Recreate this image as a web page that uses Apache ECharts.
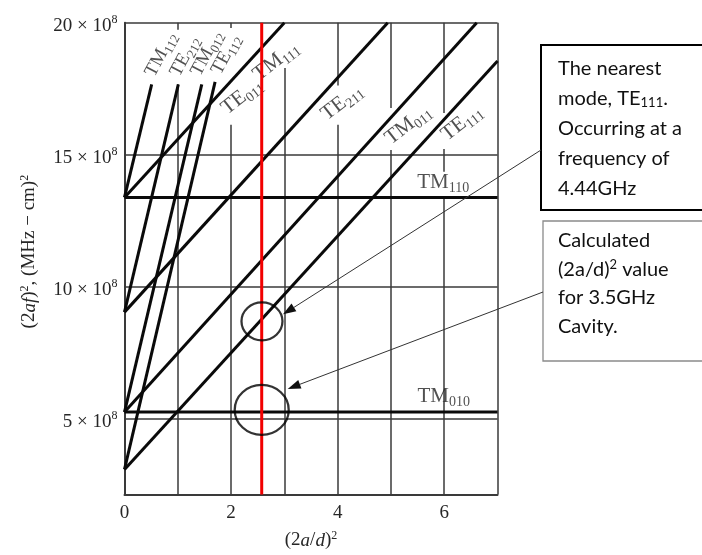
<!DOCTYPE html>
<html>
<head>
<meta charset="utf-8">
<script src="https://cdn.jsdelivr.net/npm/echarts@6/dist/echarts.min.js"></script>
<style>
  html, body { margin: 0; padding: 0; background: #fff; }
  #chart { width: 702px; height: 555px; }
</style>
</head>
<body>
<div id="chart"></div>
<script>
// Axis ranges: (2a/d)^2 across, (2af)^2 up in units of 10^8 (MHz-cm)^2
const xRange = [0, 7];
const yRange = [2.15, 20];
const xTickLabels = [0, 2, 4, 6];
const yTickLabels = [5, 10, 15, 20];

// l = 0 modes: level does not depend on d
const flatModes = ['TM010', 'TM110'];
const flatLevels = [5.27, 13.39];

// l = 1 modes: value at (2a/d)^2 = 0, then where each line leaves the chart
const firstModes = ['TE111', 'TM011', 'TE211', 'TM111'];
const firstStarts = [3.1, 5.27, 9.05, 13.39];
const firstEnds = [[7, 18.55], [6.61, 20], [4.94, 20], [3.0, 20]];

// l = 2 modes: steeper lines, stopped short of their labels
const secondModes = ['TE112', 'TM012', 'TE212', 'TM112'];
const secondStarts = [3.1, 5.27, 9.05, 13.39];
const secondEnds = [[1.70, 17.76], [1.45, 17.67], [1.01, 17.67], [0.51, 17.67]];

// Design point: (2a/d)^2 for the 3.5 GHz cavity, and the crossings marked on it
const designRatio = 2.575;
const markedPoints = [[2.58, 8.7], [2.575, 5.35]];

// Vertical rules and the stretches drawn on each (broken where mode names sit)
const vRuleX = [1, 2, 3, 4, 5, 6, 7];
const vRuleSpans = [
  [[2.15, 17.67], [19.73, 20]],
  [[2.15, 16.14], [19.8, 20]],
  [[2.15, 18.29]],
  [[2.15, 16.14], [17.62, 20]],
  [[2.15, 15.18], [16.77, 20]],
  [[2.15, 13.39], [14.36, 15.22], [16.58, 20]],
  [[2.15, 20]]
];
const hRuleY = [5, 10, 15, 20];

// Mode names and where they are written
const labelTexts = ['TM112', 'TE212', 'TM012', 'TE112', 'TE011', 'TM111', 'TE211', 'TM011', 'TE111', 'TM110', 'TM010'];
const labelAnchors = [[0.685, 18.8], [1.135, 18.73], [1.548, 18.84], [1.905, 18.8], [2.205, 17.21], [2.843, 18.55],
                      [4.08, 16.99], [5.32, 16.14], [6.33, 16.21], [5.98, 13.96], [5.99, 5.85]];
const labelAngles = [62, 62, 62, 62, 38, 38, 38, 38, 38, 0, 0];

// Notes
const noteA = ['The nearest', 'mode, TE{s|111}.', 'Occurring at a', 'frequency of', '4.44GHz'];
const noteB = ['Calculated', '(2a/d){p|2} value', 'for 3.5GHz', 'Cavity.'];

const SERIF = '"Liberation Serif", "DejaVu Serif", serif';
const SANS = 'Lato, "Open Sans", sans-serif';
const INK = '#262626';
const RULE = '#3a3a3a';

const chart = echarts.init(document.getElementById('chart'), null, { renderer: 'canvas' });

const ruleData = [];
vRuleX.forEach((x, i) => {
  vRuleSpans[i].forEach(s => ruleData.push({ coords: [[x, s[0]], [x, s[1]]] }));
});
hRuleY.forEach(y => ruleData.push({ coords: [[xRange[0], y], [xRange[1], y]] }));

const modeLine = (name, pts) => ({
  type: 'line', name, data: pts, symbol: 'none', silent: true, z: 3,
  lineStyle: { color: '#0a0a0a', width: 3 }
});

const series = [
  {
    type: 'lines', coordinateSystem: 'cartesian2d', silent: true, z: 1,
    lineStyle: { color: RULE, width: 1.5, opacity: 1 },
    data: ruleData
  }
];
flatModes.forEach((m, i) => series.push(modeLine(m, [[xRange[0], flatLevels[i]], [xRange[1], flatLevels[i]]])));
firstModes.forEach((m, i) => series.push(modeLine(m, [[0, firstStarts[i]], firstEnds[i]])));
secondModes.forEach((m, i) => series.push(modeLine(m, [[0, secondStarts[i]], secondEnds[i]])));

series.push({
  type: 'line', name: 'design', data: [[designRatio, yRange[0]], [designRatio, yRange[1]]],
  symbol: 'none', silent: true, z: 5, lineStyle: { color: '#f20000', width: 3 }
});

series.push({
  type: 'scatter', name: 'marks', silent: true, z: 6,
  data: [
    { value: markedPoints[0], symbolSize: [41, 38] },
    { value: markedPoints[1], symbolSize: [54, 50] }
  ],
  symbol: 'circle',
  itemStyle: { color: 'rgba(0,0,0,0)', borderColor: '#000', borderWidth: 2.2 }
});

const modeRich = {
  m: { fontFamily: SERIF, fontSize: 21, color: INK },
  s: { fontFamily: SERIF, fontSize: 14, color: INK, padding: [12, 0, 0, 0] },
  ms: { fontFamily: SERIF, fontSize: 19, color: INK },
  ss: { fontFamily: SERIF, fontSize: 13, color: INK, padding: [11, 0, 0, 0] }
};
series.push({
  type: 'scatter', name: 'names', silent: true, z: 4, symbolSize: 0,
  data: labelTexts.map((t, i) => ({
    value: labelAnchors[i], name: t,
    label: { rotate: labelAngles[i] }
  })),
  label: {
    show: true, position: 'inside', align: 'center', verticalAlign: 'middle',
    formatter: p => {
      const steep = labelAngles[p.dataIndex] > 50;
      const a = steep ? 'ms' : 'm', b = steep ? 'ss' : 's';
      return `{${a}|${p.name.slice(0, 2)}}{${b}|${p.name.slice(2)}}`;
    },
    rich: modeRich
  }
});

const supRich = {
  i: { fontFamily: SERIF, fontSize: 19, fontStyle: 'italic', color: INK },
  p: { fontFamily: SERIF, fontSize: 12, color: INK, padding: [0, 0, 10, 0] }
};

chart.setOption({
  animation: false,
  backgroundColor: '#fff',
  grid: { left: 124.5, right: 204.5, top: 22.7, bottom: 50 },
  xAxis: {
    type: 'value', min: xRange[0], max: xRange[1], interval: 1,
    name: '(2{i|a}/{i|d}){p|2}', nameLocation: 'middle', nameGap: 35,
    nameTextStyle: { fontFamily: SERIF, fontSize: 19, color: INK, rich: supRich },
    axisLine: { show: true, lineStyle: { color: RULE, width: 2 } },
    axisTick: { show: false },
    splitLine: { show: false },
    axisLabel: {
      customValues: xTickLabels, margin: 9,
      fontFamily: SERIF, fontSize: 19, color: INK
    }
  },
  yAxis: {
    type: 'value', min: yRange[0], max: yRange[1],
    name: '(2{i|af}){p|2}, (MHz − cm){p|2}', nameLocation: 'middle', nameGap: 84, nameRotate: 90,
    nameTextStyle: { fontFamily: SERIF, fontSize: 19, color: INK, rich: supRich, padding: [0, 0, 0, 14] },
    axisLine: { show: true, lineStyle: { color: RULE, width: 2 } },
    axisTick: { show: false },
    splitLine: { show: false },
    axisLabel: {
      customValues: yTickLabels, margin: 7,
      formatter: v => `{n|${v} × 10}{p|8}`,
      rich: {
        n: { fontFamily: SERIF, fontSize: 19, color: INK, padding: [6, 0, 0, 0] },
        p: { fontFamily: SERIF, fontSize: 12, color: INK, padding: [0, 0, 6, 0] }
      }
    }
  },
  series
});

// Notes with arrows pointing at the marked crossings
const noteRich = {
  s: { fontFamily: SANS, fontSize: 13, color: '#111', padding: [9, 0, 0, 0] },
  p: { fontFamily: SANS, fontSize: 13, color: '#111', padding: [0, 0, 9, 0] }
};
const noteText = (str, x, y) => ({
  type: 'text', x, y, z: 20,
  style: { text: str, font: `20px ${SANS}`, fill: '#111', verticalAlign: 'middle', rich: noteRich }
});

function arrow(from, to) {
  const dx = to[0] - from[0], dy = to[1] - from[1];
  const len = Math.hypot(dx, dy);
  const ux = dx / len, uy = dy / len;
  const bx = to[0] - ux * 13, by = to[1] - uy * 13;
  const nx = -uy * 4.5, ny = ux * 4.5;
  return [
    { type: 'line', z: 19, shape: { x1: from[0], y1: from[1], x2: bx, y2: by }, style: { stroke: '#333', lineWidth: 1 } },
    { type: 'polygon', z: 19, shape: { points: [to, [bx + nx, by + ny], [bx - nx, by - ny]] }, style: { fill: '#111' } }
  ];
}

const cA = chart.convertToPixel({ gridIndex: 0 }, markedPoints[0]);
const cB = chart.convertToPixel({ gridIndex: 0 }, markedPoints[1]);

const graphics = [
  { type: 'rect', z: 18, shape: { x: 541, y: 45, width: 200, height: 165 }, style: { fill: '#fff', stroke: '#000', lineWidth: 2 } },
  { type: 'rect', z: 18, shape: { x: 543, y: 221, width: 200, height: 140 }, style: { fill: '#fff', stroke: '#8a8a8a', lineWidth: 1.3 } }
];
noteA.forEach((t, i) => graphics.push(noteText(t, 558, 69 + i * 29.8)));
noteB.forEach((t, i) => graphics.push(noteText(t, 558, 241 + i * 28.5)));
graphics.push(...arrow([541, 150], [cA[0] + 21, cA[1] - 7]));
graphics.push(...arrow([543, 292], [cB[0] + 26, cB[1] - 21]));

chart.setOption({ graphic: graphics });
</script>
</body>
</html>
